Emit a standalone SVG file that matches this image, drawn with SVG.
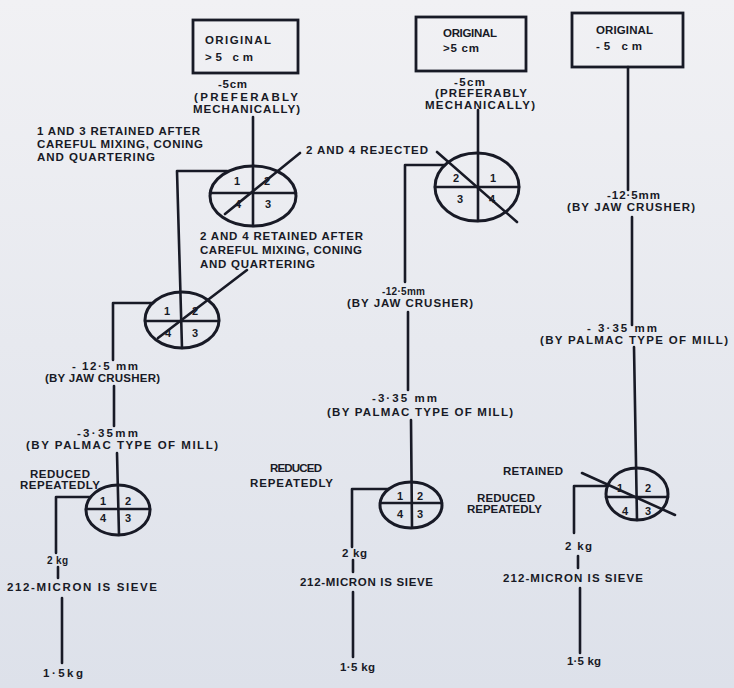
<svg xmlns="http://www.w3.org/2000/svg" width="734" height="688" viewBox="0 0 734 688">
<defs>
<linearGradient id="bg" x1="0" y1="0" x2="0" y2="1">
<stop offset="0" stop-color="#f1f1f4"/>
<stop offset="1" stop-color="#dde1ea"/>
</linearGradient>
<style>
.ink{stroke:#181a26;fill:none;stroke-width:2.6;stroke-linecap:round;stroke-linejoin:round}
.box{stroke:#181a26;fill:none;stroke-width:2.8}
.q{stroke:#181a26;fill:none;stroke-width:3}
.t{font-family:"Liberation Sans",Arial,sans-serif;font-weight:bold;font-size:11.5px;fill:#181a26}
.s{font-size:10px}
.n{font-family:"Liberation Sans",Arial,sans-serif;font-weight:bold;font-size:11px;fill:#181a26;text-anchor:middle}
</style>
</defs>
<rect width="734" height="688" fill="url(#bg)"/>

<g id="connectors" class="ink">
<!-- column 1 -->
<path d="M253,117 V226"/>
<path d="M225,214 L300,153"/>
<path d="M227,171 H177 L182,348"/>
<path d="M158,338 L247,270"/>
<path d="M153,303 H113 V360"/>
<path d="M114,386 V426"/>
<path d="M117,453 L119,535"/>
<path d="M91,497 H56 V553"/>
<path d="M58,567 V578"/>
<path d="M62,598 V663"/>
<!-- column 2 -->
<path d="M478,110 V221"/>
<path d="M437,152 L517,222"/>
<path d="M445,165 H405 V282"/>
<path d="M408,312 V390"/>
<path d="M411,420 L412,527"/>
<path d="M389,489 H352 V547"/>
<path d="M353,560 V572"/>
<path d="M353,592 V657"/>
<!-- column 3 -->
<path d="M628,67 V190"/>
<path d="M632,217 V325"/>
<path d="M634,347 L637,520"/>
<path d="M582,473 L675,515"/>
<path d="M608,486 H574 V533"/>
<path d="M578,556 V568"/>
<path d="M580,588 V653"/>
</g>

<g id="box1">
<rect class="box" x="193" y="20" width="105" height="53"/>
<text class="t" x="205" y="44" textLength="66">ORIGINAL</text>
<text class="t" x="205" y="61" textLength="48">&gt;5 cm</text>
</g>
<g id="box2">
<rect class="box" x="416" y="17" width="110" height="54"/>
<text class="t" x="443" y="37" textLength="54">ORIGINAL</text>
<text class="t" x="443" y="52" textLength="36">&gt;5 cm</text>
</g>
<g id="box3">
<rect class="box" x="572" y="13" width="111" height="54"/>
<text class="t" x="596" y="34" textLength="57">ORIGINAL</text>
<text class="t" x="596" y="50" textLength="46">-5 cm</text>
</g>

<g id="quarter1">
<ellipse class="q" cx="253" cy="196" rx="43" ry="30"/>
<path class="ink" d="M210,193 H296"/>
<text class="n" x="237" y="185">1</text>
<text class="n" x="267" y="185">2</text>
<text class="n" x="238" y="208">4</text>
<text class="n" x="268" y="208">3</text>
</g>
<g id="quarter2">
<ellipse class="q" cx="182" cy="320" rx="37" ry="28"/>
<path class="ink" d="M145,321 H219"/>
<text class="n" x="167" y="315">1</text>
<text class="n" x="195" y="315">2</text>
<text class="n" x="168" y="337">4</text>
<text class="n" x="195" y="337">3</text>
</g>
<g id="quarter3">
<ellipse class="q" cx="118" cy="510" rx="32" ry="25"/>
<path class="ink" d="M86,509 H150"/>
<text class="n" x="103" y="505">1</text>
<text class="n" x="128" y="505">2</text>
<text class="n" x="103" y="522">4</text>
<text class="n" x="128" y="522">3</text>
</g>
<g id="quarter4">
<ellipse class="q" cx="477" cy="187" rx="42" ry="34"/>
<path class="ink" d="M435,187 H519"/>
<text class="n" x="456" y="182">2</text>
<text class="n" x="493" y="182">1</text>
<text class="n" x="460" y="203">3</text>
<text class="n" x="492" y="203">4</text>
</g>
<g id="quarter5">
<ellipse class="q" cx="411" cy="505" rx="31" ry="23"/>
<path class="ink" d="M380,503 H442"/>
<text class="n" x="400" y="500">1</text>
<text class="n" x="420" y="500">2</text>
<text class="n" x="400" y="518">4</text>
<text class="n" x="420" y="518">3</text>
</g>
<g id="quarter6">
<ellipse class="q" cx="637" cy="494" rx="31" ry="26"/>
<path class="ink" d="M606,497 H668"/>
<text class="n" x="620" y="492">1</text>
<text class="n" x="648" y="492">2</text>
<text class="n" x="625" y="515">4</text>
<text class="n" x="648" y="515">3</text>
</g>

<g id="labels1">
<text class="t" x="218" y="88" textLength="29">-5cm</text>
<text class="t" x="194" y="101" textLength="104">(PREFERABLY</text>
<text class="t" x="193" y="113" textLength="107">MECHANICALLY)</text>
<text class="t" x="37" y="135" textLength="163">1 AND 3 RETAINED AFTER</text>
<text class="t" x="37" y="148" textLength="166">CAREFUL MIXING, CONING</text>
<text class="t" x="37" y="161" textLength="118">AND QUARTERING</text>
<text class="t" x="306" y="154" textLength="122">2 AND 4 REJECTED</text>
<text class="t" x="200" y="240" textLength="163">2 AND 4 RETAINED AFTER</text>
<text class="t" x="200" y="254" textLength="162">CAREFUL MIXING, CONING</text>
<text class="t" x="200" y="268" textLength="115">AND QUARTERING</text>
<text class="t" x="72" y="370" textLength="66">- 12·5 mm</text>
<text class="t" x="45" y="382" textLength="115">(BY JAW CRUSHER)</text>
<text class="t" x="77" y="437" textLength="61">-3·35mm</text>
<text class="t" x="26" y="449" textLength="192">(BY PALMAC TYPE OF MILL)</text>
<text class="t" x="30" y="478" textLength="60">REDUCED</text>
<text class="t" x="20" y="489" textLength="80">REPEATEDLY</text>
<text class="t s" x="47" y="564" textLength="21">2 kg</text>
<text class="t" x="7" y="591" textLength="150">212-MICRON IS SIEVE</text>
<text class="t" x="43" y="677" textLength="40">1·5kg</text>
</g>

<g id="labels2">
<text class="t" x="454" y="86" textLength="31">-5cm</text>
<text class="t" x="435" y="97" textLength="92">(PREFERABLY</text>
<text class="t" x="425" y="109" textLength="110">MECHANICALLY)</text>
<text class="t s" x="382" y="295" textLength="43">-12·5mm</text>
<text class="t" x="347" y="307" textLength="126">(BY JAW CRUSHER)</text>
<text class="t" x="372" y="402" textLength="65">-3·35 mm</text>
<text class="t" x="327" y="416" textLength="186">(BY PALMAC TYPE OF MILL)</text>
<text class="t" x="270" y="472" textLength="52">REDUCED</text>
<text class="t" x="250" y="487" textLength="83">REPEATEDLY</text>
<text class="t" x="342" y="557" textLength="25">2 kg</text>
<text class="t" x="300" y="586" textLength="133">212-MICRON IS SIEVE</text>
<text class="t" x="340" y="671" textLength="35">1·5 kg</text>
</g>

<g id="labels3">
<text class="t" x="607" y="199" textLength="53">-12·5mm</text>
<text class="t" x="567" y="211" textLength="128">(BY JAW CRUSHER)</text>
<text class="t" x="587" y="332" textLength="70">- 3·35 mm</text>
<text class="t" x="540" y="344" textLength="188">(BY PALMAC TYPE OF MILL)</text>
<text class="t" x="503" y="475" textLength="60">RETAINED</text>
<text class="t" x="477" y="502" textLength="58">REDUCED</text>
<text class="t" x="467" y="513" textLength="75">REPEATEDLY</text>
<text class="t" x="565" y="550" textLength="27">2 kg</text>
<text class="t" x="503" y="582" textLength="140">212-MICRON IS SIEVE</text>
<text class="t" x="567" y="665" textLength="34">1·5 kg</text>
</g>
</svg>
